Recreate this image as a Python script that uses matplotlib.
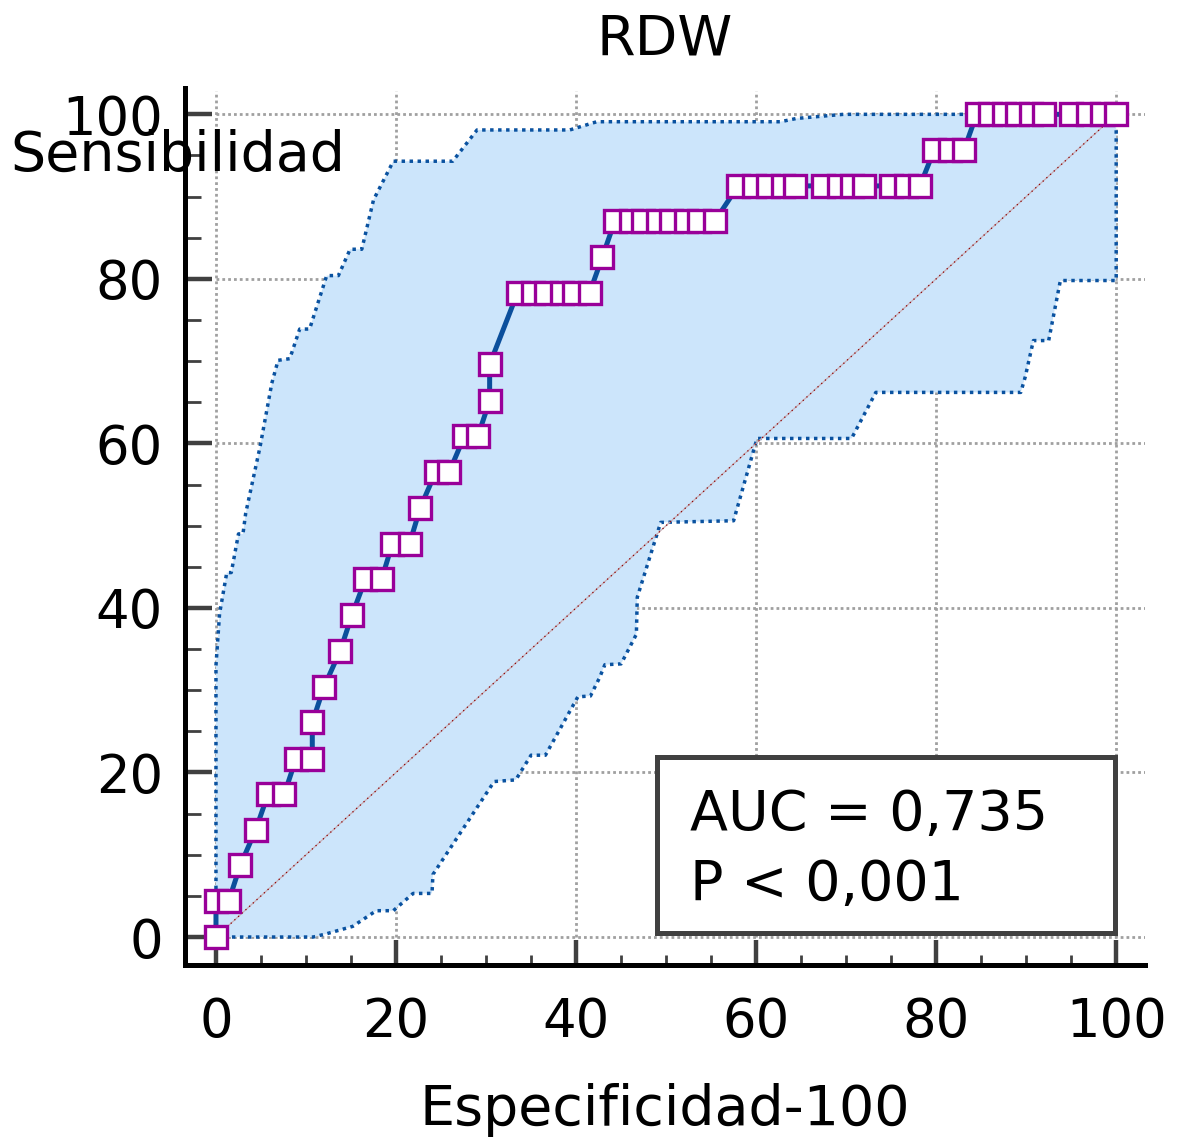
import numpy as np
import matplotlib
matplotlib.use("Agg")
import matplotlib.pyplot as plt
from matplotlib.patches import Rectangle

# puntos de la curva ROC (100-especificidad, sensibilidad)
fpr = [0, 0, 1.4, 2.7, 4.4, 5.8, 7.6, 8.9, 10.7, 10.7, 12.0, 13.8, 15.1,
       16.6, 18.4, 19.6, 21.5, 22.7, 24.4, 25.9, 27.6, 29.1, 30.4, 30.4,
       33.5, 35.2, 36.7, 38.4, 39.8, 41.5, 42.9,
       44.3, 46.1, 47.4, 49.1, 50.6, 52.2, 53.7, 55.4,
       58.0, 59.8, 61.3, 63.0, 64.3, 67.4, 69.2, 70.6, 72.0, 75.0, 76.7, 78.2,
       79.8, 81.5, 83.1,
       84.5, 86.0, 87.5, 89.0, 90.5, 92.0, 95.0, 96.9, 98.4, 100.0]
tpr = [0, 4.35, 4.35, 8.7, 13.0, 17.4, 17.4, 21.7, 21.7, 26.1, 30.4, 34.8, 39.1,
       43.5, 43.5, 47.8, 47.8, 52.2, 56.5, 56.5, 60.9, 60.9, 65.2, 69.6,
       78.3, 78.3, 78.3, 78.3, 78.3, 78.3, 82.6,
       87.0, 87.0, 87.0, 87.0, 87.0, 87.0, 87.0, 87.0,
       91.3, 91.3, 91.3, 91.3, 91.3, 91.3, 91.3, 91.3, 91.3, 91.3, 91.3, 91.3,
       95.7, 95.7, 95.7,
       100, 100, 100, 100, 100, 100, 100, 100, 100, 100]

# limites del intervalo de confianza
upper_x = [0, 0, 0.4, 1.2, 1.7, 2.5, 3.0, 3.3, 4.9, 6.2, 6.9, 8.2, 9.3, 10.4,
           12.3, 13.6, 14.9, 16.2, 17.5, 19.7, 26.3, 29.0, 39.3, 42.3, 62.7,
           64.5, 69.7, 100]
upper_y = [0, 33, 39.3, 44.3, 44.3, 49.0, 49.0, 51.5, 59.6, 67.3, 70.1, 70.3,
           73.9, 73.9, 80.4, 80.4, 83.6, 83.6, 89.6, 94.3, 94.3, 98.1, 98.1,
           99.1, 99.1, 99.5, 100, 100]
lower_x = [0, 10.8, 12.3, 15.2, 17.8, 19.7, 21.9, 24.0, 24.1, 30.9, 33.3, 35.0,
           36.6, 40.2, 41.6, 42.6, 43.2, 45.0, 46.7, 46.8, 49.4, 57.5, 60.1,
           70.6, 73.3, 89.4, 89.9, 90.8, 92.5, 93.8, 100, 100]
lower_y = [0, 0, 0.4, 1.3, 3.2, 3.2, 5.3, 5.3, 7.6, 18.9, 19.1, 22.1, 22.1,
           29.2, 29.3, 31.5, 33.1, 33.2, 36.8, 41.3, 50.4, 50.6, 60.6, 60.6,
           66.2, 66.2, 68.1, 72.5, 72.5, 79.8, 79.8, 100]

major_ticks = [0, 20, 40, 60, 80, 100]
minor_ticks = np.arange(0, 101, 5)

plt.rcParams['font.family'] = ['DejaVu Sans']

fig = plt.figure(figsize=(11.8, 11.41), dpi=100)
ax = fig.add_axes([185 / 1180, (1141 - 965) / 1141, 960 / 1180, 877 / 1141])
xmax, ymax = 103.2, 103.2
ax.set_xlim(-3.44, xmax)
ax.set_ylim(-3.4, ymax)

# rejilla punteada
for t in major_ticks:
    ax.plot([t, t], [0, ymax - 0.4], color='#a0a0a0', lw=2.0,
            ls=(0, (1, 1.1)), zorder=1)
    ax.plot([0, xmax], [t, t], color='#a0a0a0', lw=2.0,
            ls=(0, (1, 1.1)), zorder=1)

# banda de confianza
poly_x = np.concatenate([upper_x, lower_x[::-1]])
poly_y = np.concatenate([upper_y, lower_y[::-1]])
ax.fill(poly_x, poly_y, color='#cce5fb', lw=0, zorder=2)
ax.plot(upper_x, upper_y, color='#0a52a0', lw=2.5, ls=(0, (1, 1.3)), zorder=3)
ax.plot(lower_x, lower_y, color='#0a52a0', lw=2.5, ls=(0, (1, 1.3)), zorder=3)

# diagonal de referencia
ax.plot([0, 100], [0, 100], color='#c8b0b8', lw=0.9, zorder=3.5)
ax.plot([0, 100], [0, 100], color='#8b0000', lw=0.9, ls=(0, (1, 3)), zorder=3.6)

# curva ROC
ax.plot(fpr, tpr, color='#0b4f9c', lw=3.6, marker='s', ms=16,
        mfc='white', mec='#990099', mew=2.4, zorder=5)

# recuadro AUC
ax.add_patch(Rectangle((49.0, 0.5), 50.9, 21.4, fc='white', ec='#404040',
                       lw=3.6, zorder=6))
ax.text(52.7, 13.0, 'AUC = 0,735', fontsize=40, va='baseline', zorder=7)
ax.text(52.7, 4.5, 'P < 0,001', fontsize=40, va='baseline', zorder=7)

ax.spines[['top', 'right']].set_visible(False)
for s in ['left', 'bottom']:
    ax.spines[s].set_linewidth(3.6)
    ax.spines[s].set_color('black')
    ax.spines[s].set_zorder(8)

ax.set_xticks(major_ticks)
ax.set_yticks(major_ticks)
ax.set_xticks(minor_ticks, minor=True)
ax.set_yticks(minor_ticks, minor=True)
ax.xaxis.set_tick_params(which='major', direction='in', length=18, width=3.2,
                         color='#404040', labelsize=38, pad=22)
ax.xaxis.set_tick_params(which='minor', direction='in', length=7, width=2,
                         color='#404040')
ax.yaxis.set_tick_params(which='major', direction='in', length=19.5, width=3.2,
                         color='#404040', labelsize=38, pad=16)
ax.yaxis.set_tick_params(which='minor', direction='in', length=11.5, width=2,
                         color='#404040')

ax.set_title('RDW', fontsize=40, pad=24)
ax.set_xlabel('Especificidad-100', fontsize=40, va='baseline')
ax.xaxis.set_label_coords(0.5, -0.1824)
ax.set_ylabel('Sensibilidad', fontsize=40, rotation=0, ha='left', va='baseline')
ax.yaxis.set_label_coords(-0.182, 0.906)

fig.savefig('out.png', dpi=100)
